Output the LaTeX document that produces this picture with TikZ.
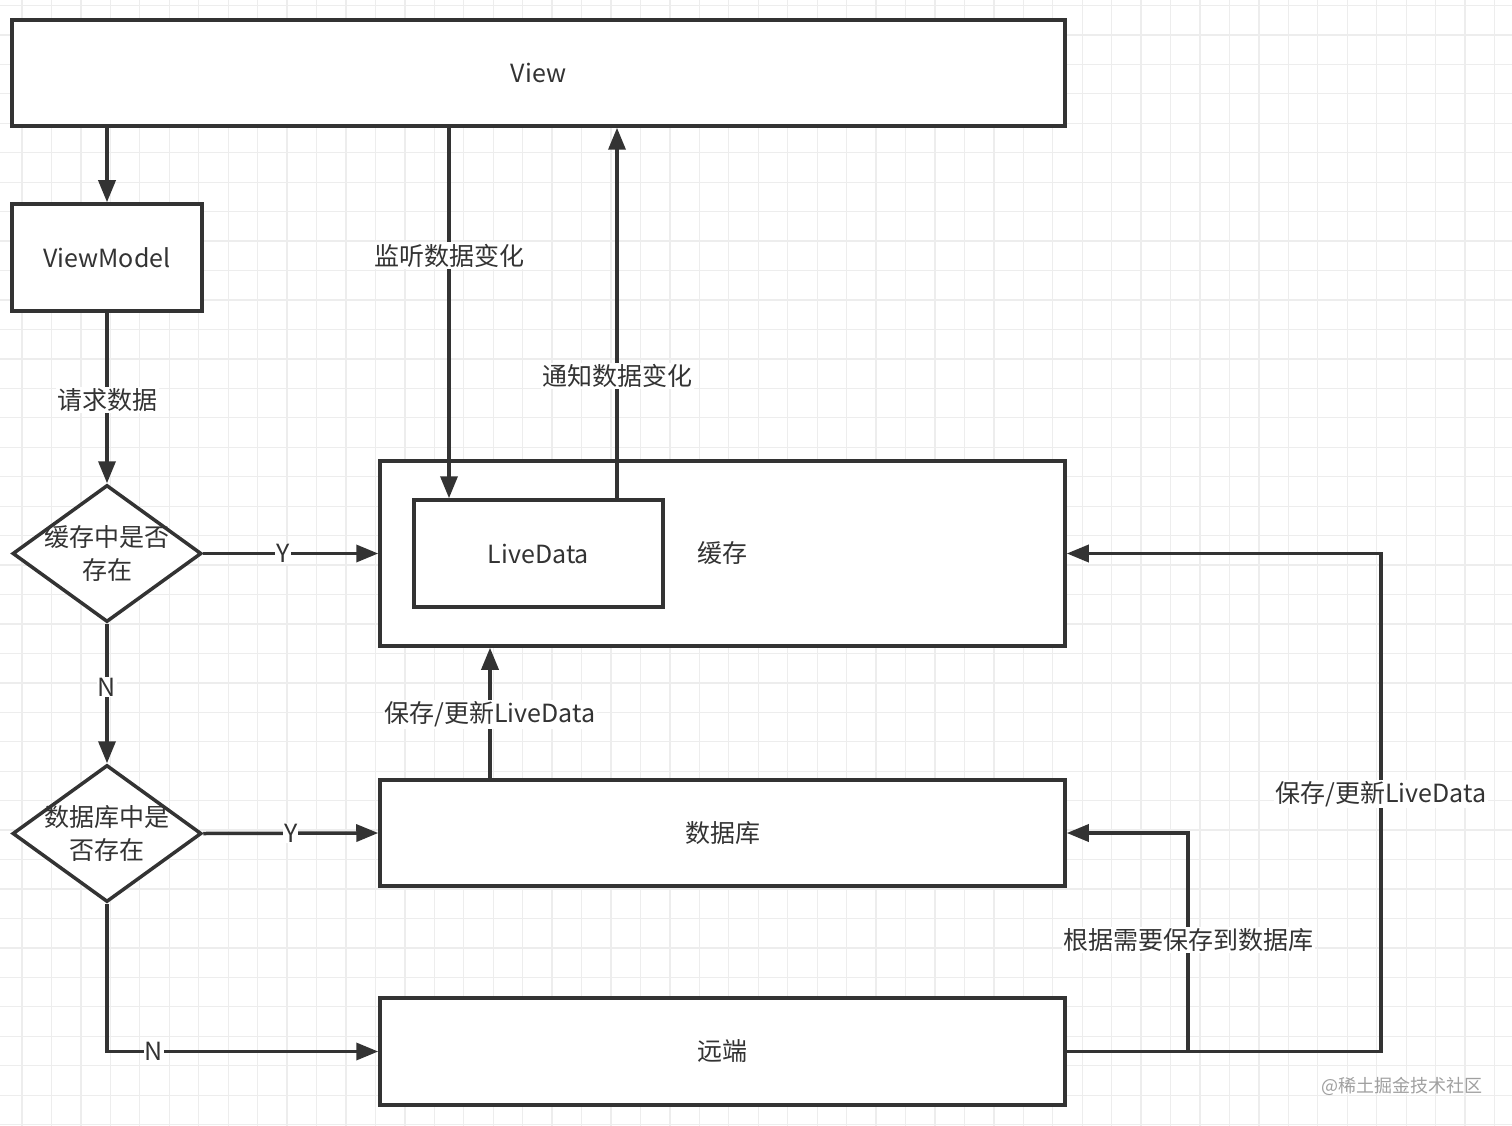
\documentclass[tikz,border=0pt]{standalone}
\usepackage{fontspec}
\setmainfont{Noto Sans CJK SC}
\usetikzlibrary{arrows.meta,shapes.geometric}
\definecolor{ink}{HTML}{333333}
\definecolor{gridc}{HTML}{EDEDED}
\definecolor{wm}{HTML}{A0A0A0}
\tikzset{
  box/.style={draw=ink, line width=3.5pt, fill=white, rectangle, inner sep=0pt, text=ink, font=\fontsize{25}{30}\selectfont},
  dia/.style={draw=ink, line width=3.5pt, fill=white, diamond, inner sep=0pt, minimum width=189pt, minimum height=137pt},
  diatext/.style={text=ink, font=\fontsize{25}{33}\selectfont, align=center, inner sep=0pt},
  conn/.style={draw=ink, line width=3.5pt},
  arr/.style={conn, -{Triangle[length=22pt,width=17pt]}},
  lbl/.style={fill=white, text=ink, inner sep=1.5pt, font=\fontsize{25}{30}\selectfont},
}
\begin{document}
\begin{tikzpicture}[x=1pt,y=-1pt]
\useasboundingbox (0,0) rectangle (1512,1126);
\fill[white] (0,0) rectangle (1512,1126);
% background grid
\foreach \i in {0,...,51} {
  \draw[gridc, line width=1.3pt] ({22+29.45*\i},0) -- ({22+29.45*\i},1126);
}
\foreach \j in {0,...,38} {
  \draw[gridc, line width=1.3pt] (0,{5.5+29.45*\j}) -- (1512,{5.5+29.45*\j});
}

% nodes
\node[box, minimum width=1053pt, minimum height=106pt] (view) at (538.5,73) {View};
\node[box, minimum width=190pt, minimum height=107pt] (vm) at (107,257.5) {ViewModel};
\node[box, minimum width=685pt, minimum height=185pt] (cache) at (722.5,553.5) {缓存};
\node[box, minimum width=249pt, minimum height=107pt] (ld) at (538.5,553.5) {LiveData};
\node[box, minimum width=685pt, minimum height=106pt] (db) at (722.5,833) {数据库};
\node[box, minimum width=685pt, minimum height=107pt] (remote) at (722.5,1051.5) {远端};
\node[dia] (d1) at (107,553.5) {};
\node[diatext] (d1t) at (d1.center) {缓存中是否\\存在};
\node[dia] (d2) at (107,833.5) {};
\node[diatext] (d2t) at (d2.center) {数据库中是\\否存在};

% helper coordinates
\coordinate (lx) at (449,0);
\coordinate (nx) at (617,0);
\coordinate (sx) at (490,0);
\coordinate (nbend) at (107,1051.5);
\coordinate (r1) at (1188,1051.5);
\coordinate (r1t) at (1188,833);
\coordinate (r2) at (1381,1051.5);
\coordinate (r2t) at (1381,553.5);

% connectors
\draw[arr] (vm.north |- view.south) -- (vm.north);
\draw[arr] (vm.south) -- node[lbl, pos=0.51] {请求数据} (d1.north);
\draw[arr] (view.south -| lx) -- node[lbl, pos=0.345] {监听数据变化} (ld.north -| lx);
\draw[arr] (ld.north -| nx) -- node[lbl, pos=0.33] {通知数据变化} (view.south -| nx);
\draw[arr] (d1.east) -- node[lbl, pos=0.455, inner sep=1pt] {Y} (cache.west);
\draw[arr] (d1.south) -- node[lbl, pos=0.455, inner sep=1pt] {N} (d2.north);
\draw[arr] (d2.east) -- node[lbl, pos=0.5, inner sep=1pt] {Y} (db.west);
\draw[arr] (db.north -| sx) -- node[lbl, pos=0.49] {保存/更新LiveData} (cache.south -| sx);
\draw[arr] (d2.south) -- (nbend) -- node[lbl, pos=0.172, inner sep=1pt] {N} (remote.west);
\draw[arr] (remote.east) -- (r1) -- node[lbl, pos=0.51] {根据需要保存到数据库} (r1t) -- (db.east);
\draw[arr] (remote.east) -- (r2) -- node[lbl, pos=0.517] {保存/更新LiveData} (r2t) -- (cache.east);

% watermark
\node[text=wm, font=\fontsize{18}{21}\selectfont, inner sep=0pt] (wmk) at (1402,1086) {@稀土掘金技术社区};
\end{tikzpicture}
\end{document}
